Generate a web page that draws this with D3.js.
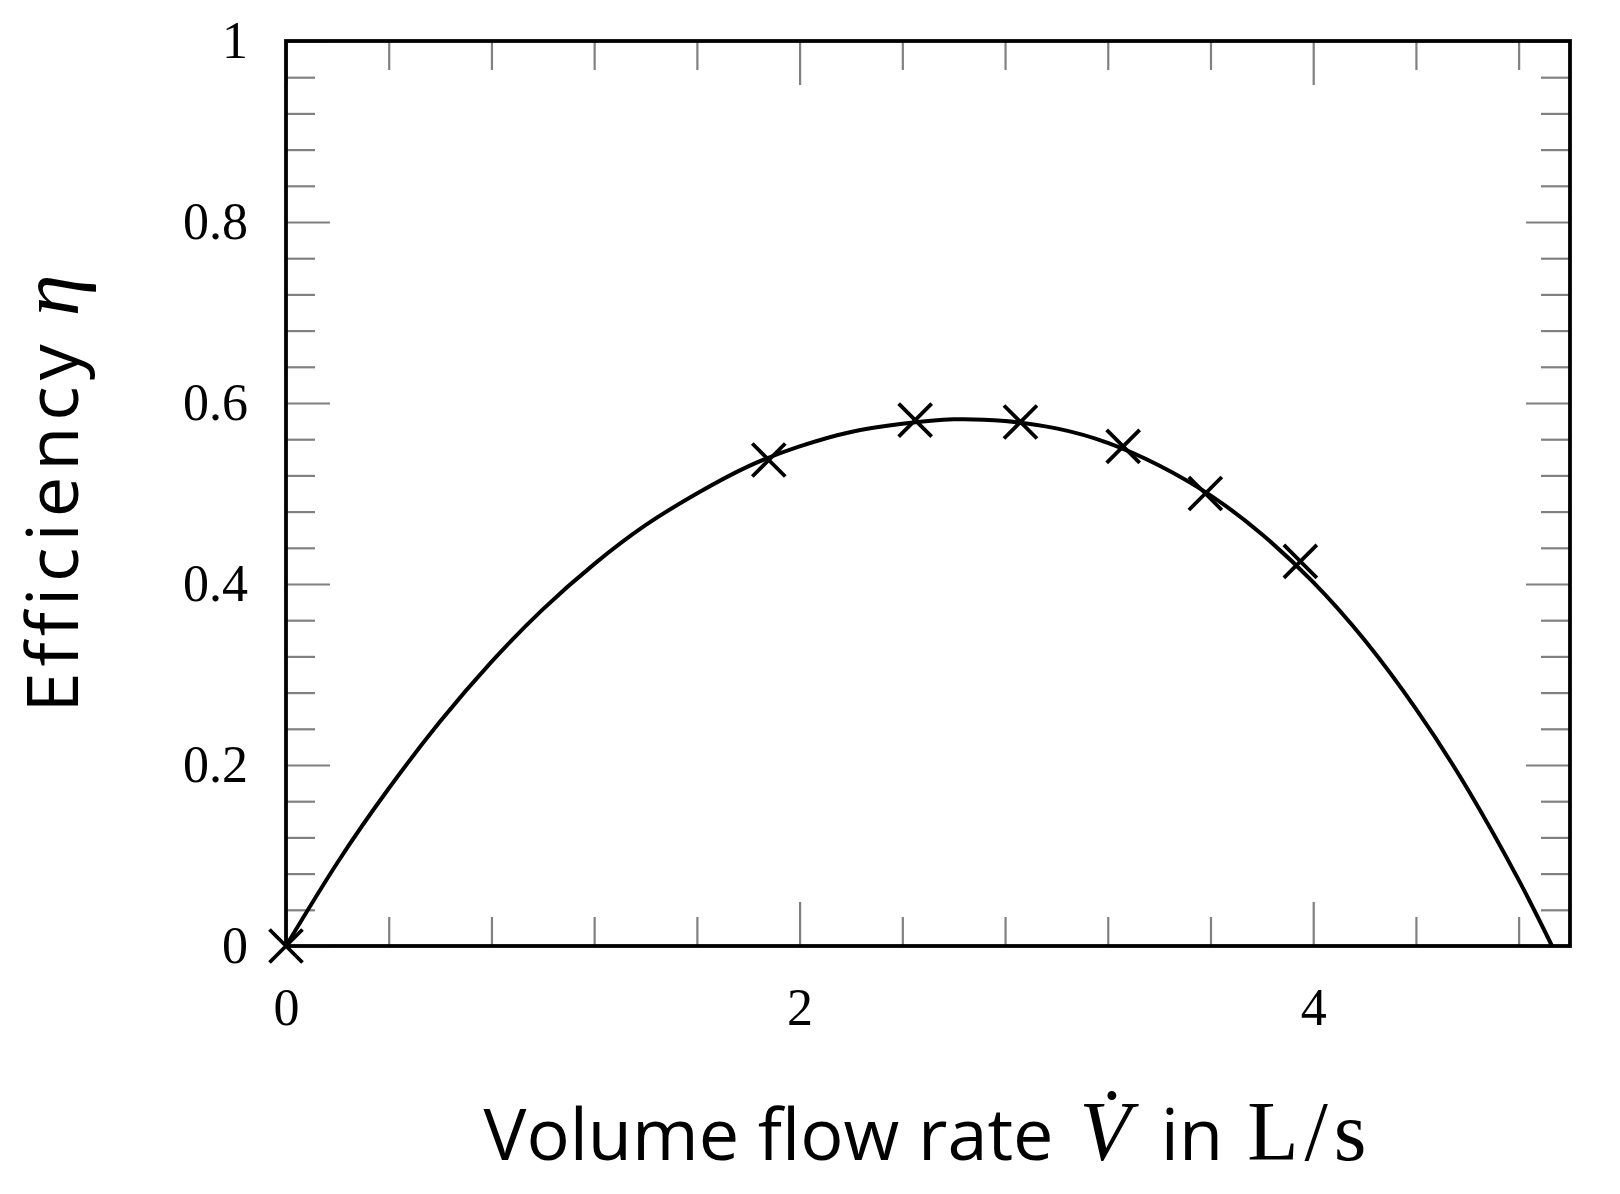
<!DOCTYPE html>
<html><head><meta charset="utf-8">
<script src="https://cdn.jsdelivr.net/npm/d3@7"></script>
<style>html,body{margin:0;padding:0;background:#fff}</style>
</head><body>
<svg id="chart" width="1620" height="1194"></svg>
<script>
// measured points (volume flow rate in L/s, efficiency)
const flowRate   = [0, 1.88, 2.45, 2.86, 3.26, 3.58, 3.95];
const efficiency = [0, 0.537, 0.581, 0.579, 0.552, 0.500, 0.425];
// fitted curve
const fitFlow = [0,0.2,0.4,0.6,0.8,1.0,1.2,1.4,1.6,1.8,2.0,2.2,2.4,2.6,2.8,3.0,3.2,3.4,3.6,3.8,4.0,4.2,4.4,4.6,4.8,4.93];
const fitEff  = [0,0.092,0.174,0.248,0.314,0.372,0.422,0.465,0.500,0.530,0.552,0.568,0.577,0.582,0.580,0.572,0.556,0.531,0.498,0.455,0.402,0.338,0.262,0.174,0.073,0];
// ticks
const xMajorTicks = [0, 2, 4];
const xMinorTicks = [0.4,0.8,1.2,1.6,2.4,2.8,3.2,3.6,4.4,4.8];
const yMajorTicks = [0, 0.2, 0.4, 0.6, 0.8, 1];
const yMinorTicks = [0.04,0.08,0.12,0.16,0.24,0.28,0.32,0.36,0.44,0.48,0.52,0.56,0.64,0.68,0.72,0.76,0.84,0.88,0.92,0.96];
const xTickLabels = ["0", "2", "4"];
const yTickLabels = ["0", "0.2", "0.4", "0.6", "0.8", "1"];

const m = {left: 286, right: 1570, top: 41, bottom: 946};
const x = d3.scaleLinear().domain([0, 5]).range([m.left, m.right]);
const y = d3.scaleLinear().domain([0, 1]).range([m.bottom, m.top]);
const svg = d3.select("#chart");

const MINOR = 29, MAJOR = 44;
const serif = "'Liberation Serif', 'Times New Roman', serif";
const sans = "'Open Sans', 'DejaVu Sans', sans-serif";

function styleAxis(g) {
  g.select(".domain").remove();
  g.selectAll(".tick line").attr("stroke", "#808080").attr("stroke-width", 2.2);
  g.selectAll(".tick text").attr("fill", "#000").style("font-family", serif).style("font-size", "52px");
  g.attr("font-family", null).attr("font-size", null);
}

// bottom
svg.append("g").attr("transform", `translate(0,${m.bottom})`)
  .call(d3.axisBottom(x).tickValues(xMinorTicks).tickSize(-MINOR).tickFormat("")).call(styleAxis);
svg.append("g").attr("transform", `translate(0,${m.bottom})`)
  .call(d3.axisBottom(x).tickValues(xMajorTicks).tickSize(-MAJOR).tickPadding(42)
    .tickFormat((d, i) => xTickLabels[i])).call(styleAxis);
// top
svg.append("g").attr("transform", `translate(0,${m.top})`)
  .call(d3.axisTop(x).tickValues(xMinorTicks).tickSize(-MINOR).tickFormat("")).call(styleAxis);
svg.append("g").attr("transform", `translate(0,${m.top})`)
  .call(d3.axisTop(x).tickValues(xMajorTicks).tickSize(-MAJOR).tickFormat("")).call(styleAxis);
// left
svg.append("g").attr("transform", `translate(${m.left},0)`)
  .call(d3.axisLeft(y).tickValues(yMinorTicks).tickSize(-MINOR).tickFormat("")).call(styleAxis);
svg.append("g").attr("transform", `translate(${m.left},0)`)
  .call(d3.axisLeft(y).tickValues(yMajorTicks).tickSize(-MAJOR).tickPadding(38)
    .tickFormat((d, i) => yTickLabels[i])).call(styleAxis);
// right
svg.append("g").attr("transform", `translate(${m.right},0)`)
  .call(d3.axisRight(y).tickValues(yMinorTicks).tickSize(-MINOR).tickFormat("")).call(styleAxis);
svg.append("g").attr("transform", `translate(${m.right},0)`)
  .call(d3.axisRight(y).tickValues(yMajorTicks).tickSize(-MAJOR).tickFormat("")).call(styleAxis);

// frame
svg.append("rect")
  .attr("x", x(0)).attr("y", y(1))
  .attr("width", x(5) - x(0)).attr("height", y(0) - y(1))
  .attr("fill", "none").attr("stroke", "#000").attr("stroke-width", 3.8);

// fitted curve
const fit = fitFlow.map((v, i) => [v, fitEff[i]]);
svg.append("path").datum(fit)
  .attr("d", d3.line().x(d => x(d[0])).y(d => y(d[1])).curve(d3.curveNatural))
  .attr("fill", "none").attr("stroke", "#000").attr("stroke-width", 4);

// markers
const pts = flowRate.map((v, i) => [v, efficiency[i]]);
const s = 16.5;
svg.append("g").selectAll("path").data(pts).join("path")
  .attr("transform", d => `translate(${x(d[0])},${y(d[1])})`)
  .attr("d", `M${-s},${-s}L${s},${s}M${-s},${s}L${s},${-s}`)
  .attr("fill", "none").attr("stroke", "#000").attr("stroke-width", 3.8);

// x axis title
const xt = svg.append("text")
  .attr("x", (m.left + m.right) / 2).attr("y", 1160)
  .attr("text-anchor", "middle").attr("fill", "#000")
  .style("font-family", sans).style("font-size", "72px");
xt.append("tspan").text("Volume flow rate");
xt.append("tspan").attr("dx", 26).style("font-family", serif).style("font-style", "italic").style("font-size", "84px").text("V\u0307");
xt.append("tspan").attr("dx", 30).text("in");
xt.append("tspan").attr("dx", 24).style("font-family", serif).style("font-size", "84px").style("letter-spacing", "6px").text("L/s");

// y axis title
const yt = svg.append("text")
  .attr("transform", `translate(78,${(m.top + m.bottom) / 2}) rotate(-90)`)
  .attr("text-anchor", "middle").attr("fill", "#000")
  .style("font-family", sans).style("font-size", "72px");
yt.append("tspan").style("letter-spacing", "6px").text("Efficiency");
yt.append("tspan").attr("dx", 22).style("font-family", serif).style("font-style", "italic").style("font-size", "84px").text("\u03B7");
</script>
</body></html>
